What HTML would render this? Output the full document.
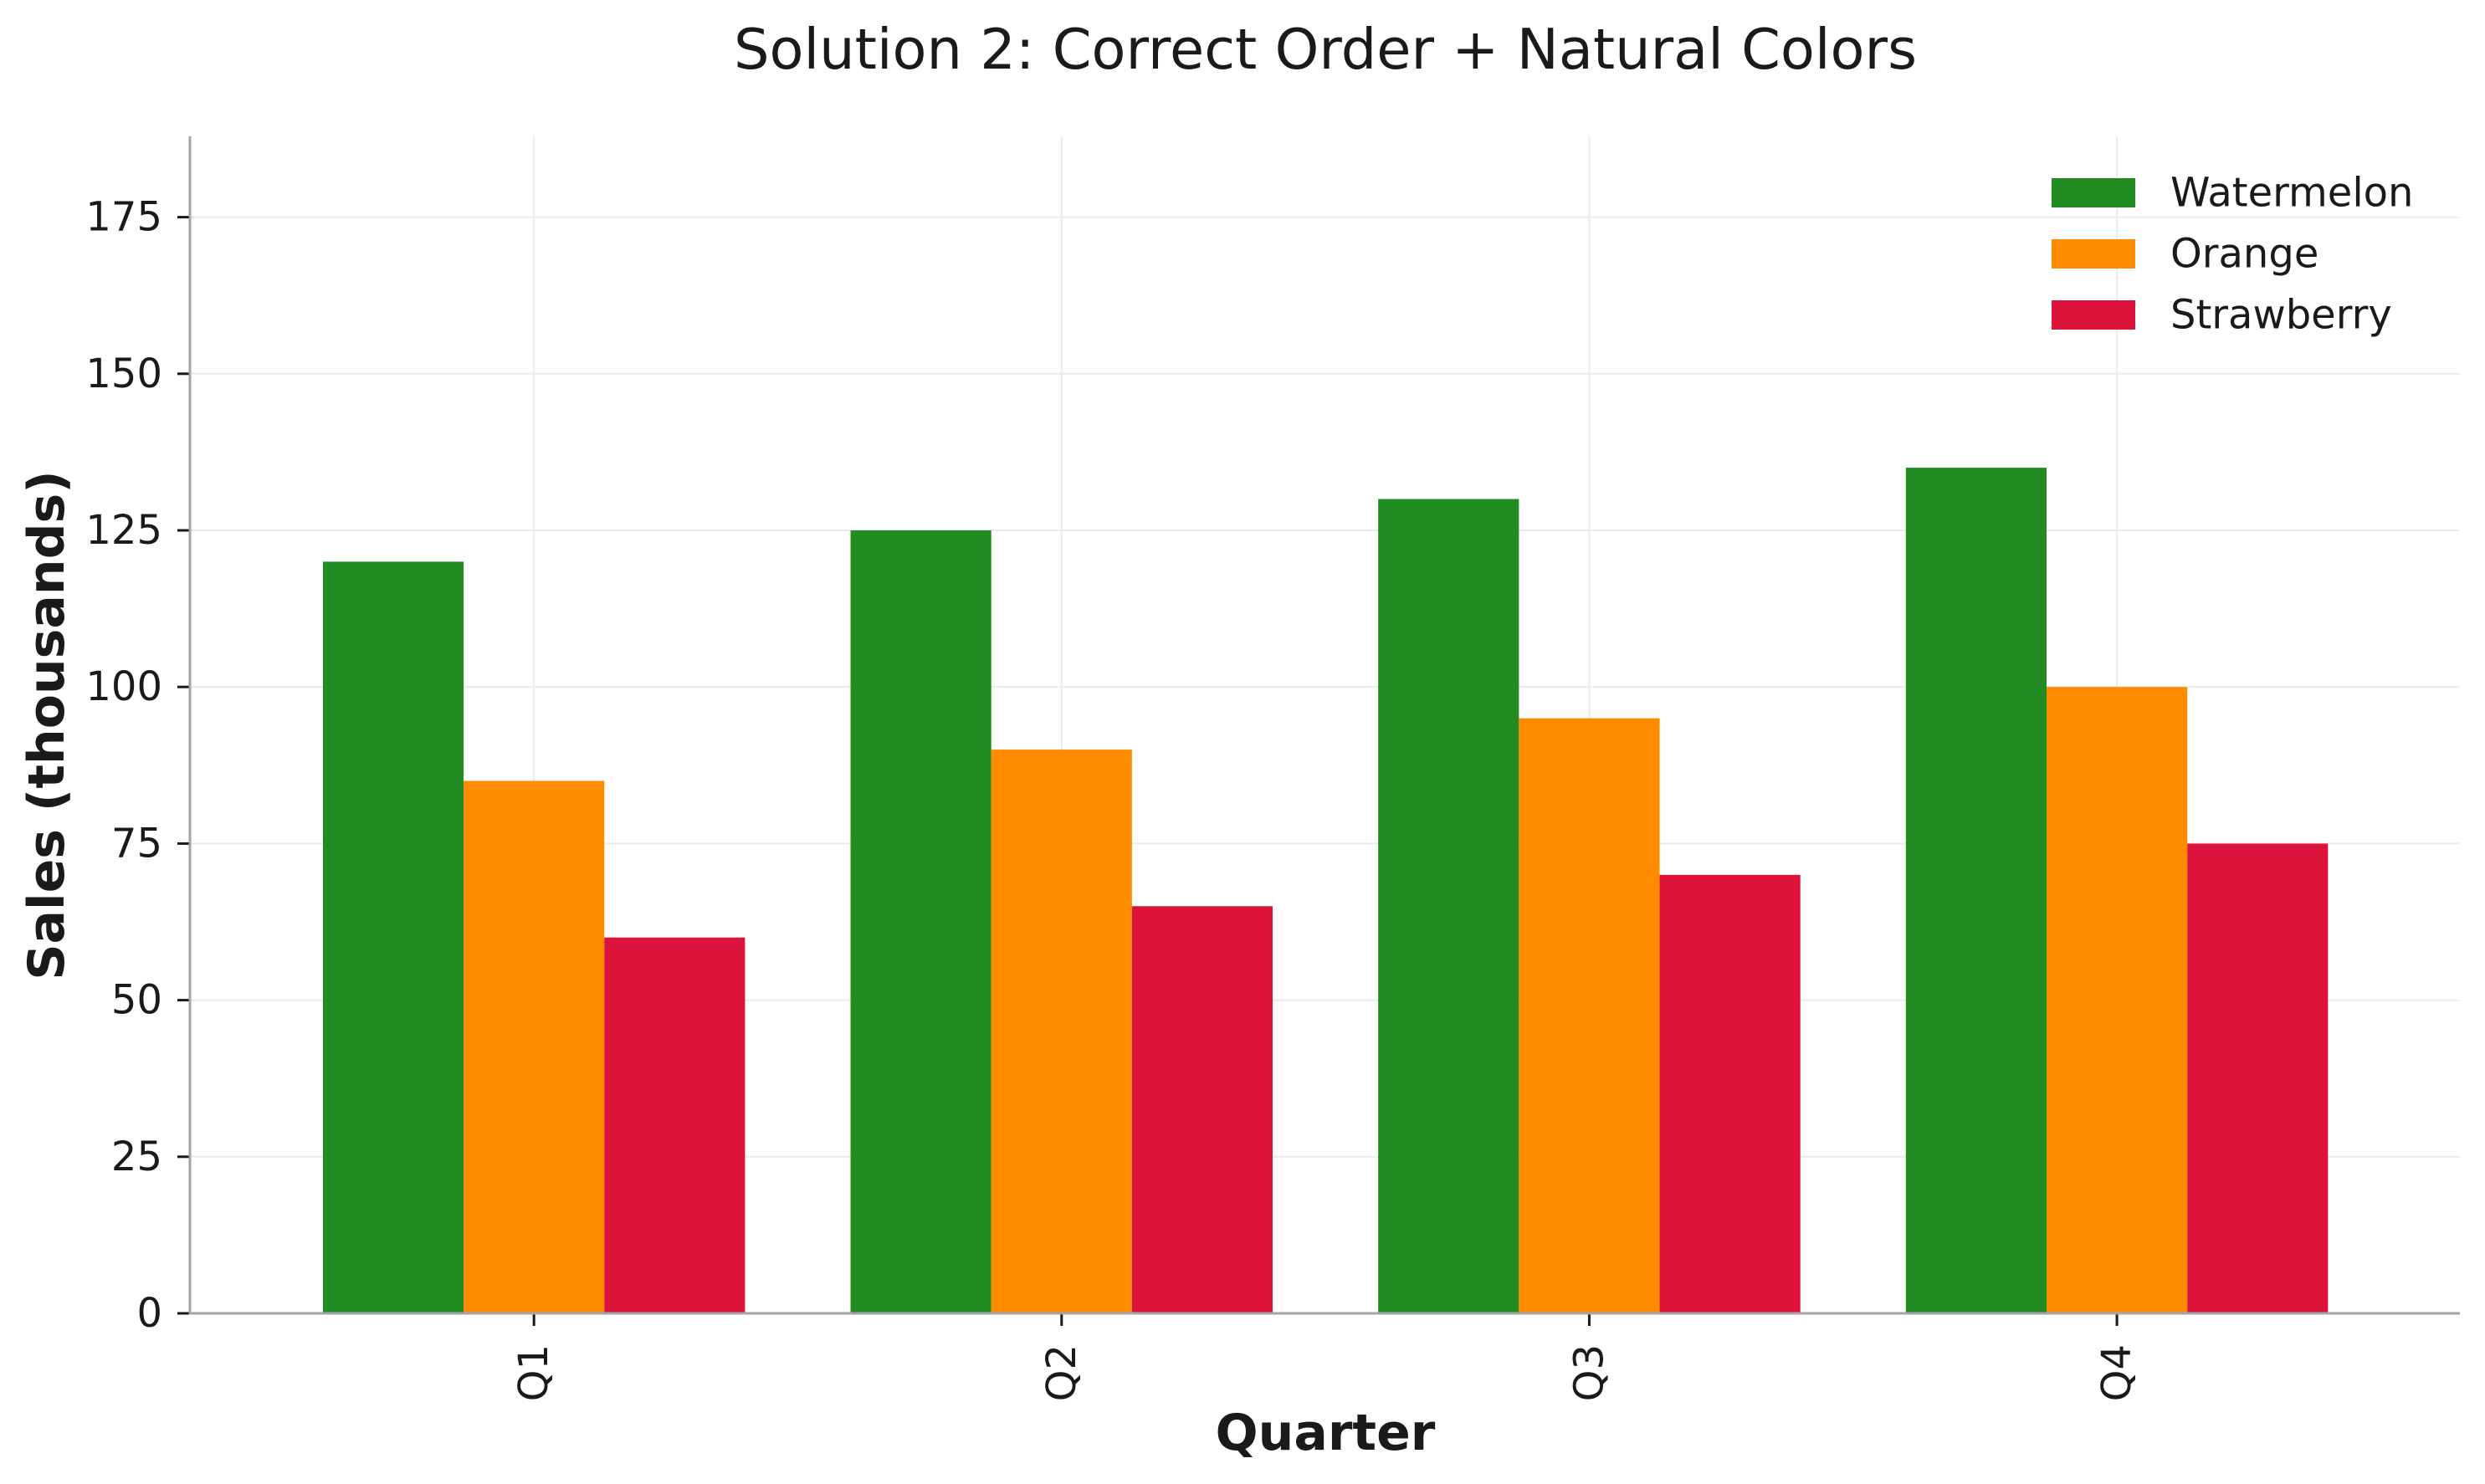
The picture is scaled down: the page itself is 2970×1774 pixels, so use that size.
<!DOCTYPE html>
<html><head><meta charset="utf-8"><style>
html,body{margin:0;padding:0;background:#fff;}
svg{display:block;font-family:"DejaVu Sans","Liberation Sans",sans-serif;}
</style></head><body>
<svg id="chart" width="2970" height="1774" viewBox="0 0 2970 1774" xmlns="http://www.w3.org/2000/svg">
<text x="1584" y="82" text-anchor="middle" font-size="67" fill="#1a1a1a">Solution 2: Correct Order + Natural Colors</text>
<g id="grid"></g>
<g id="bars"></g>
<g id="axes"></g>
<text x="0" y="0" transform="translate(76,867) rotate(-90)" text-anchor="middle" font-size="60" font-weight="bold" fill="#1a1a1a">Sales (thousands)</text>
<text x="1584" y="1733" text-anchor="middle" font-size="60" font-weight="bold" fill="#1a1a1a">Quarter</text>
<g id="legend"></g>
</svg>
<script>
const categories = ["Q1","Q2","Q3","Q4"];
const seriesNames = ["Watermelon","Orange","Strawberry"];
const watermelon = [120,125,130,135];
const orange = [85,90,95,100];
const strawberry = [60,65,70,75];
const yTicks = [0,25,50,75,100,125,150,175];

const NS="http://www.w3.org/2000/svg";
const seriesValues=[watermelon,orange,strawberry];
const colors=["#228B22","#FF8C00","#DC143C"];
const L=227,R=2940,T=163,B=1570;
const xMin=-0.652,xMax=3.65,yMin=0,yMax=187.9;
function xs(v){return L+(v-xMin)/(xMax-xMin)*(R-L);}
function ys(v){return B-(v-yMin)/(yMax-yMin)*(B-T);}
function mk(tag,attrs,parent){const e=document.createElementNS(NS,tag);for(const k in attrs)e.setAttribute(k,attrs[k]);parent.appendChild(e);return e;}
const grid=document.getElementById('grid'),bars=document.getElementById('bars'),axes=document.getElementById('axes'),legend=document.getElementById('legend');
yTicks.forEach(t=>{
  const g=mk('line',{x1:L,x2:R,y1:ys(t),y2:ys(t),stroke:'#ebebeb','stroke-width':2},grid);
  
  
  const tk=mk('line',{x1:L-15,x2:L,y1:ys(t),y2:ys(t),stroke:'#1a1a1a','stroke-width':3},axes);
  
  
  const lb=mk('text',{x:L-33,y:ys(t),'text-anchor':'end','dominant-baseline':'central','font-size':48,fill:'#1a1a1a'},axes);
  
  
  lb.textContent=t;
});
const bw=0.8/3;
categories.forEach((c,i)=>{
  const g=mk('line',{x1:xs(i),x2:xs(i),y1:T,y2:B,stroke:'#ebebeb','stroke-width':2},grid);
  
  
  seriesValues.forEach((vals,s)=>{
    const x0=xs(i-0.4+s*bw),x1=xs(i-0.4+(s+1)*bw);
    const r=mk('rect',{x:x0,y:ys(vals[i]),width:x1-x0,height:ys(0)-ys(vals[i]),fill:colors[s]},bars);
    
    
  });
  const tk=mk('line',{x1:xs(i),x2:xs(i),y1:B,y2:B+15,stroke:'#1a1a1a','stroke-width':3},axes);
  
  
  const lb=mk('text',{x:xs(i),y:1607,'text-anchor':'end','dominant-baseline':'central','font-size':48,fill:'#1a1a1a',transform:'rotate(-90,'+xs(i)+',1607)'},axes);
  
  
  lb.textContent=c;
});
const sl=mk('line',{x1:L,x2:L,y1:T,y2:B+1.5,stroke:'#a3a3ab','stroke-width':3},axes);


const sb=mk('line',{x1:L-1.5,x2:R,y1:B,y2:B,stroke:'#a3a3ab','stroke-width':3},axes);


seriesNames.forEach((n,s)=>{
  const y0=213+s*73;
  const p=mk('rect',{x:2452,y:y0,width:100,height:35,fill:colors[s]},legend);
  
  
  const t=mk('text',{x:2594,y:y0+17.5,'dominant-baseline':'central','font-size':48,fill:'#1a1a1a'},legend);
  
  
  t.textContent=n;
});
</script>
</body></html>
